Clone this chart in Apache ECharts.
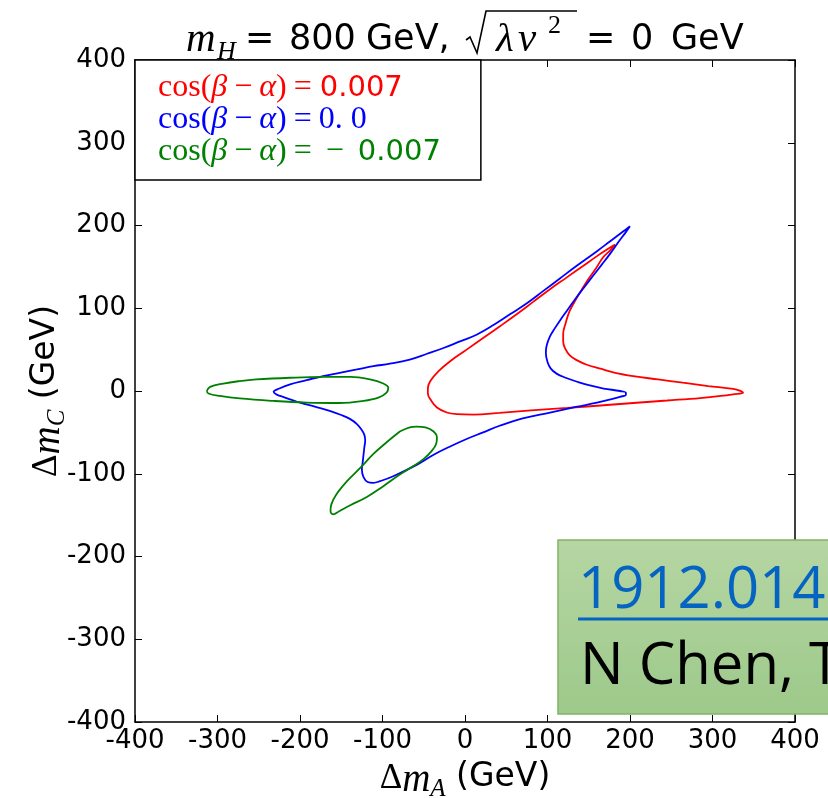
<!DOCTYPE html>
<html>
<head>
<meta charset="utf-8">
<script src="https://cdn.jsdelivr.net/npm/echarts@6/dist/echarts.min.js"></script>
<style>
html, body { margin: 0; padding: 0; background: #fff; }
#chart { width: 828px; height: 798px; }
</style>
</head>
<body>
<div id="chart"></div>
<script>
// axis range (GeV)
const axisMin = -400;
const axisMax = 400;
const axisStep = 100;

const seriesNames = ['cos(β−α)=0.007', 'cos(β−α)=0.0', 'cos(β−α)=−0.007'];
const legendNumbers = ['0.007', '0. 0', '−0.007'];
const seriesColors = ['#ff0000', '#0000ff', '#008000'];

// cos(beta-alpha) = 0.007
const redCurve = [
    [182, 177], [172, 171], [160, 163], [143, 151], [123, 137], [103, 123], [83, 108], [63, 93],
    [42, 78], [22, 64], [2, 50], [-18, 36], [-32, 24], [-42, 12], [-45, 3], [-45, -3],
    [-42, -10], [-34, -20], [-22, -26], [-10, -28], [10, -28.5], [42, -26.5], [80, -23.5], [124, -20.5],
    [164, -17.5], [204, -14.5], [245, -11.5], [285, -8.5], [310, -6], [325, -4], [337, -2], [333, 0.5],
    [325, 2.5], [295, 6], [264, 10], [234, 14], [204, 18], [182, 22], [164, 27], [147, 32],
    [136, 37], [127, 43], [121, 52], [119, 60], [119, 69], [122, 82], [127, 97], [137, 115],
    [148, 133], [158, 147], [167, 161], [176, 170], [182, 177]
];

// cos(beta-alpha) = 0.0
const blueCurve = [
    [200, 199], [192, 193], [176, 181], [160, 169], [135, 151], [115, 136], [95, 121], [75, 106],
    [55, 93], [35, 80], [14, 68], [-6, 60], [-26, 52], [-46, 45], [-67, 38], [-91, 33],
    [-111, 30], [-131, 26], [-152, 22], [-172, 18], [-192, 13], [-212, 8], [-225, 3], [-232, -1],
    [-229, -4], [-224, -6], [-212, -10], [-200, -14], [-182, -19], [-164, -24], [-150, -29], [-139, -34],
    [-131, -40], [-126, -46], [-122, -53], [-121, -60], [-122, -68], [-123, -77], [-124, -86], [-125, -95],
    [-123, -104], [-118, -110], [-111, -111], [-103, -109], [-87, -103], [-58, -89], [-38, -77], [-18, -67],
    [2, -58], [22, -50], [42, -42], [70, -33], [103, -26], [136, -19], [160, -14], [175, -10.5],
    [188, -7], [195, -4.5], [195, -2], [188, 0], [168, 3], [150, 7], [135, 11.5], [122, 16],
    [111, 21], [104, 27], [100, 35], [98, 46], [99, 55], [103, 66], [109, 76], [115, 85],
    [125, 99], [135, 113], [145, 126], [155, 139], [166, 153], [176, 166], [186, 180], [195, 192],
    [200, 199]
];

// cos(beta-alpha) = -0.007, two separate loops
const greenLoopLeft = [
    [-313, 0], [-309, 5], [-293, 9], [-273, 12], [-253, 14], [-212, 16], [-172, 17], [-139, 17],
    [-115, 14], [-99, 9], [-93, 4], [-95, -2], [-105, -8], [-123, -12], [-152, -14.5], [-192, -14],
    [-232, -12], [-273, -9], [-297, -6], [-311, -3], [-313, 0]
];
const greenLoopLow = [
    [-79, -49], [-67, -44], [-59, -43], [-48, -44], [-38, -49], [-34, -56], [-35, -64], [-40, -72],
    [-50, -82], [-63, -91], [-79, -101], [-99, -115], [-119, -128], [-139, -138], [-152, -145], [-160, -149],
    [-163, -145], [-162, -137], [-156, -125], [-143, -109], [-127, -93], [-111, -76], [-95, -62], [-79, -49]
];

const tickFont = 'DejaVu Sans';
const mathFont = 'Liberation Serif';

let myChart = echarts.init(document.getElementById('chart'));

function lineSeries(name, data, color) {
    return {
        name: name,
        type: 'line',
        data: data,
        showSymbol: false,
        smooth: 0.4,
        lineStyle: { color: color, width: 1.8 },
        itemStyle: { color: color },
        silent: true
    };
}

// one piece of the title, placed by hand like mathtext does
function titlePiece(text, x, y, font) {
    return {
        type: 'text', z: 10,
        style: { text: text, x: x, y: y, font: font, fill: '#000', verticalAlign: 'middle' }
    };
}

// rich styles for the legend, one set per colour
let legendRich = {};
seriesColors.forEach(function (c, i) {
    legendRich['s' + i] = { fontFamily: mathFont, fontSize: 32, color: c, lineHeight: 31.5 };
    legendRich['i' + i] = { fontFamily: mathFont, fontStyle: 'italic', fontSize: 32, color: c, lineHeight: 31.5 };
    legendRich['o' + i] = { fontFamily: mathFont, fontSize: 32, color: c, lineHeight: 31.5, padding: [0, 7, 0, 7] };
    legendRich['m' + i] = { fontFamily: mathFont, fontSize: 32, color: c, lineHeight: 31.5, padding: [0, 0, 0, 7] };
    legendRich['g' + i] = { fontFamily: mathFont, fontSize: 32, color: c, lineHeight: 31.5, padding: [0, 0, 0, 14] };
    legendRich['n' + i] = { fontFamily: tickFont, fontSize: 29, color: c, lineHeight: 31.5, padding: [0, 0, 0, 8] };
    legendRich['p' + i] = { fontFamily: tickFont, fontSize: 29, color: c, lineHeight: 31.5, padding: [0, 0, 0, 14] };
});

const nameRich = {
    d: { fontFamily: mathFont, fontSize: 35, lineHeight: 40, padding: [6, 0, 0, 0], verticalAlign: 'top' },
    i: { fontFamily: mathFont, fontStyle: 'italic', fontSize: 39, lineHeight: 40, padding: [6, 0, 0, 0], verticalAlign: 'top' },
    sb: { fontFamily: mathFont, fontStyle: 'italic', fontSize: 25, lineHeight: 24, padding: [22, 0, 0, 0], verticalAlign: 'top' },
    t: { fontFamily: tickFont, fontSize: 33, lineHeight: 40, padding: [6, 0, 0, 0], verticalAlign: 'top' }
};

function frameAxis(pos) {
    return {
        type: 'value', position: pos, min: axisMin, max: axisMax, interval: axisStep,
        axisLine: { show: true, onZero: false, lineStyle: { color: '#000', width: 1.5 } },
        axisTick: { show: true, inside: true, length: 7, lineStyle: { color: '#000' } },
        axisLabel: { show: false },
        splitLine: { show: false }
    };
}

const sansTitle = '35px "DejaVu Sans"';
const mathTitle = 'italic 41px "Liberation Serif"';

let option = {
    animation: false,
    backgroundColor: '#fff',
    grid: { left: 135, right: 33, top: 60, bottom: 76, containLabel: false, outerBoundsMode: 'none' },
    legend: {
        orient: 'vertical',
        left: 135,
        top: 60,
        padding: [12, 40, 12, 18],
        itemGap: 0,
        itemWidth: 0,
        itemHeight: 0,
        icon: 'none',
        borderColor: '#000',
        borderWidth: 1.5,
        backgroundColor: '#fff',
        selectedMode: false,
        data: seriesNames,
        formatter: function (name) {
            const k = seriesNames.indexOf(name);
            let num = legendNumbers[k];
            let head = '{s' + k + '|cos(}{i' + k + '|β}{o' + k + '|−}{i' + k + '|α}{s' + k + '|)}{m' + k + '|=}';
            if (num.charAt(0) === '−') {
                return head + '{g' + k + '|−}{p' + k + '|' + num.slice(1) + '}';
            }
            const numStyle = k === 1 ? 'm' : 'n';
            return head + '{' + numStyle + k + '|' + num + '}';
        },
        textStyle: { rich: legendRich, padding: [0, 0, 0, 0] }
    },
    xAxis: [
        {
            type: 'value', min: axisMin, max: axisMax, interval: axisStep,
            name: '{d|Δ}{i|m}{sb|A}{t| (GeV)}',
            nameLocation: 'middle', nameGap: 33, nameMoveOverlap: false,
            nameTextStyle: { color: '#000', rich: nameRich },
            axisLine: { show: true, onZero: false, lineStyle: { color: '#000', width: 1.5 } },
            axisTick: { show: true, inside: true, length: 7, lineStyle: { color: '#000' } },
            axisLabel: { color: '#000', fontFamily: tickFont, fontSize: 26, margin: 6 },
            splitLine: { show: false }
        },
        frameAxis('top')
    ],
    yAxis: [
        {
            type: 'value', min: axisMin, max: axisMax, interval: axisStep,
            name: '{d|Δ}{i|m}{sb|C}{t| (GeV)}',
            nameLocation: 'middle', nameGap: 72, nameRotate: 90, nameMoveOverlap: false,
            nameTextStyle: { color: '#000', rich: nameRich },
            axisLine: { show: true, onZero: false, lineStyle: { color: '#000', width: 1.5 } },
            axisTick: { show: true, inside: true, length: 7, lineStyle: { color: '#000' } },
            axisLabel: { color: '#000', fontFamily: tickFont, fontSize: 26, margin: 9 },
            splitLine: { show: false }
        },
        frameAxis('right')
    ],
    series: [
        lineSeries(seriesNames[0], redCurve, seriesColors[0]),
        lineSeries(seriesNames[1], blueCurve, seriesColors[1]),
        lineSeries(seriesNames[2], greenLoopLeft, seriesColors[2]),
        lineSeries(seriesNames[2], greenLoopLow, seriesColors[2])
    ],
    graphic: [
        // title: m_H = 800 GeV, sqrt(lambda v^2) = 0 GeV
        titlePiece('m', 186, 40, mathTitle),
        titlePiece('H', 217, 52, 'italic 26px "Liberation Serif"'),
        titlePiece('=', 245, 40, sansTitle),
        titlePiece('800', 289, 40, sansTitle),
        titlePiece('GeV,', 366, 40, sansTitle),
        {
            type: 'polyline', z: 10,
            shape: { points: [[466, 40], [470, 37], [477, 53], [486, 11], [577, 11]] },
            style: { stroke: '#000', lineWidth: 1.6, fill: null }
        },
        titlePiece('λ', 496, 40, mathTitle),
        titlePiece('v', 518, 40, mathTitle),
        titlePiece('2', 548, 26, '26px "Liberation Serif"'),
        titlePiece('=', 586, 40, sansTitle),
        titlePiece('0', 631, 40, sansTitle),
        titlePiece('GeV', 671, 40, sansTitle),
        // green reference box
        {
            type: 'rect', z: 20,
            shape: { x: 558, y: 540, width: 300, height: 174 },
            style: {
                fill: new echarts.graphic.LinearGradient(0, 0, 0, 1, [
                    { offset: 0, color: '#b6d6a3' },
                    { offset: 1, color: '#9dc98a' }
                ]),
                stroke: '#82b366', lineWidth: 1.5
            }
        },
        {
            type: 'text', left: 578, top: 562, z: 21,
            style: { text: '1912.01431', fill: '#0563c1', font: '58px "Open Sans"' }
        },
        {
            type: 'line', z: 21,
            shape: { x1: 578, y1: 619, x2: 828, y2: 619 },
            style: { stroke: '#0563c1', lineWidth: 3 }
        },
        {
            type: 'text', left: 580, top: 638, z: 21,
            style: { text: 'N Chen, T Han', fill: '#000', font: '58px "Open Sans"' }
        }
    ]
};

myChart.setOption(option);
</script>
</body>
</html>
